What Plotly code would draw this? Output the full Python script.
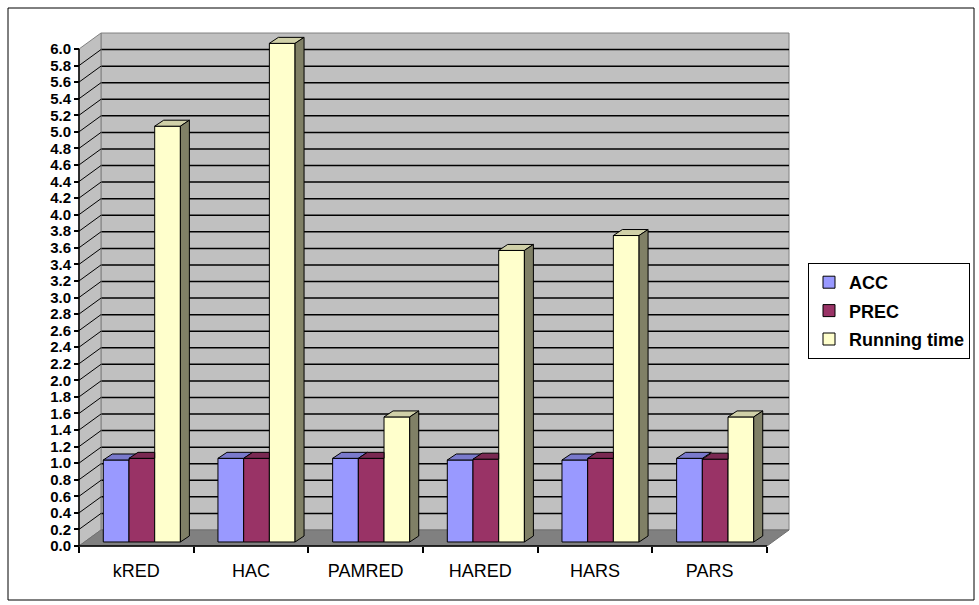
import plotly.graph_objects as go

# ---------------- data ----------------
categories = ["kRED", "HAC", "PAMRED", "HARED", "HARS", "PARS"]
acc = [0.99, 1.01, 1.01, 0.99, 0.99, 1.01]
prec = [1.01, 1.01, 1.01, 1.00, 1.01, 1.00]
running_time = [5.02, 6.02, 1.51, 3.52, 3.70, 1.51]
series_names = ["ACC", "PREC", "Running time"]
y_tick_vals = [0.0, 0.2, 0.4, 0.6, 0.8, 1.0, 1.2, 1.4, 1.6, 1.8, 2.0, 2.2, 2.4, 2.6, 2.8,
               3.0, 3.2, 3.4, 3.6, 3.8, 4.0, 4.2, 4.4, 4.6, 4.8, 5.0, 5.2, 5.4, 5.6, 5.8, 6.0]
y_tick_text = ["%.1f" % v for v in y_tick_vals]

# ---------------- styling / geometry ----------------
W, H = 979, 605
FONT = "Liberation Sans, Arial, Helvetica, sans-serif"
front_colors = ["#9999FF", "#993366", "#FFFFCC"]
top_colors = ["#7A7ACC", "#7A2952", "#D0D0A8"]
side_colors = ["#4D4D80", "#4D1A33", "#808066"]

PX0, PXW = 79.0, 114.67     # pixel of x=-0.5 ; pixels per category
PY0, PYU = 546.0, 82.83     # pixel of y=0 ; pixels per unit
XR = [-0.62, 5.75]
YR = [-0.12, 6.35]


def px(xv):
    return PX0 + PXW * (xv + 0.5)


def py(yv):
    return PY0 - PYU * yv


DX, DY = 22.0 / PXW, 16.0 / PYU      # depth of the 3D box
DXB, DYB = 5.5 / PXW, 4.0 / PYU      # bar plane shift
BDX, BDY = 9.0 / PXW, 6.0 / PYU      # bar depth
BW = 25.7 / PXW                      # bar width
YMAX = y_tick_vals[-1]
XL, XRt = -0.5, len(categories) - 0.5

series = [acc, prec, running_time]

fig = go.Figure()

# bars (front faces)
for k, (name, vals) in enumerate(zip(series_names, series)):
    fig.add_trace(go.Bar(
        x=[i + DXB for i in range(len(categories))],
        y=vals,
        base=DYB,
        width=BW,
        offset=(-1.5 + k) * BW,
        name=name,
        legendgroup=name,
        marker=dict(color=front_colors[k], line=dict(color="#000000", width=1)),
        hoverinfo="skip",
    ))


def poly(xs, ys, color):
    fig.add_trace(go.Scatter(
        x=xs + [xs[0]], y=ys + [ys[0]], mode="lines", fill="toself",
        fillcolor=color, line=dict(color="#000000", width=1),
        showlegend=False, hoverinfo="skip"))


# 3D top and side faces (clipped where the neighbouring bar hides them)
for i in range(len(categories)):
    for k in range(3):
        v = DYB + series[k][i]
        x0 = i + DXB + (-1.5 + k) * BW
        x1 = x0 + BW
        f = 0.0
        if k < 2:
            vn = DYB + series[k + 1][i]
            f = min(max((vn - v) / BDY, 0.0), 1.0)
        if f <= 0.0:
            xs = [x0, x1, x1 + BDX, x0 + BDX]
            ys = [v, v, v + BDY, v + BDY]
        elif f >= 1.0:
            xs = [x0, x1, x1, x0 + BDX]
            ys = [v, v, v + BDY, v + BDY]
        else:
            xs = [x0, x1, x1, x1 + BDX * f, x1 + BDX, x0 + BDX]
            ys = [v, v, v + f * BDY, v + f * BDY, v + BDY, v + BDY]
        poly(xs, ys, top_colors[k])
        if k == 2:
            poly([x1, x1 + BDX, x1 + BDX, x1], [DYB, DYB + BDY, v + BDY, v], side_colors[k])

shapes = []
# outer border
shapes.append(dict(type="rect", xref="paper", yref="paper",
                   x0=8 / W, x1=974 / W, y0=1 - 600 / H, y1=1 - 8 / H,
                   line=dict(color="#000000", width=1), layer="below"))
# back wall
shapes.append(dict(type="rect", xref="x", yref="y", x0=XL + DX, x1=XRt + DX, y0=DY, y1=YMAX + DY,
                   fillcolor="#C0C0C0", line=dict(color="#808080", width=1), layer="below"))
# back wall gridlines
for v in y_tick_vals[1:-1]:
    shapes.append(dict(type="line", xref="x", yref="y", x0=XL + DX, x1=XRt + DX, y0=v + DY, y1=v + DY,
                       line=dict(color="#000000", width=1.5), layer="below"))
# left side wall
shapes.append(dict(type="path", xref="x", yref="y",
                   path="M %f %f L %f %f L %f %f L %f %f Z" % (XL, 0, XL, YMAX, XL + DX, YMAX + DY, XL + DX, DY),
                   fillcolor="#C0C0C0", line=dict(color="#808080", width=1), layer="below"))
for v in y_tick_vals[1:-1]:
    shapes.append(dict(type="line", xref="x", yref="y", x0=XL, x1=XL + DX, y0=v, y1=v + DY,
                       line=dict(color="#000000", width=1), layer="below"))
# floor
shapes.append(dict(type="path", xref="x", yref="y",
                   path="M %f %f L %f %f L %f %f L %f %f Z" % (XL, 0, XRt, 0, XRt + DX, DY, XL + DX, DY),
                   fillcolor="#808080", line=dict(color="#707070", width=1), layer="below"))
# front axis lines
shapes.append(dict(type="line", xref="x", yref="y", x0=XL, x1=XRt, y0=0, y1=0,
                   line=dict(color="#000000", width=1.5), layer="below"))
shapes.append(dict(type="line", xref="x", yref="y", x0=XL, x1=XL, y0=0, y1=YMAX,
                   line=dict(color="#000000", width=1.5), layer="below"))

fig.update_layout(
    width=W, height=H,
    margin=dict(l=0, r=0, t=0, b=0),
    paper_bgcolor="#FFFFFF",
    plot_bgcolor="rgba(0,0,0,0)",
    barmode="overlay",
    shapes=shapes,
    font=dict(family=FONT, color="#000000"),
    xaxis=dict(
        type="linear", range=XR, domain=[px(XR[0]) / W, px(XR[1]) / W],
        anchor="free", position=1 - PY0 / H,
        showgrid=False, zeroline=False, showline=False,
        tickmode="array", tickvals=list(range(len(categories))), ticktext=categories,
        ticks="", ticklabelstandoff=12,
        tickfont=dict(family=FONT, size=18, color="#000000"),
        minor=dict(tickmode="array", tickvals=[i - 0.5 for i in range(len(categories) + 1)],
                   ticks="outside", ticklen=6, tickwidth=1.5, tickcolor="#000000", showgrid=False),
    ),
    yaxis=dict(
        range=YR, domain=[1 - py(YR[0]) / H, 1 - py(YR[1]) / H],
        anchor="free", position=PX0 / W,
        showgrid=False, zeroline=False, showline=False,
        tickmode="array", tickvals=y_tick_vals, ticktext=y_tick_text,
        ticks="outside", ticklen=5, tickwidth=1.5, tickcolor="#000000",
        tickfont=dict(family=FONT, size=15, color="#000000", weight="bold"),
    ),
    legend=dict(
        x=808 / W, y=1 - 263 / H, xanchor="left", yanchor="top",
        bgcolor="#FFFFFF", bordercolor="#000000", borderwidth=1,
        font=dict(family=FONT, size=18, color="#000000", weight="bold"),
        traceorder="grouped", tracegroupgap=2,
    ),
    showlegend=True,
)

fig.write_html("out.html")
